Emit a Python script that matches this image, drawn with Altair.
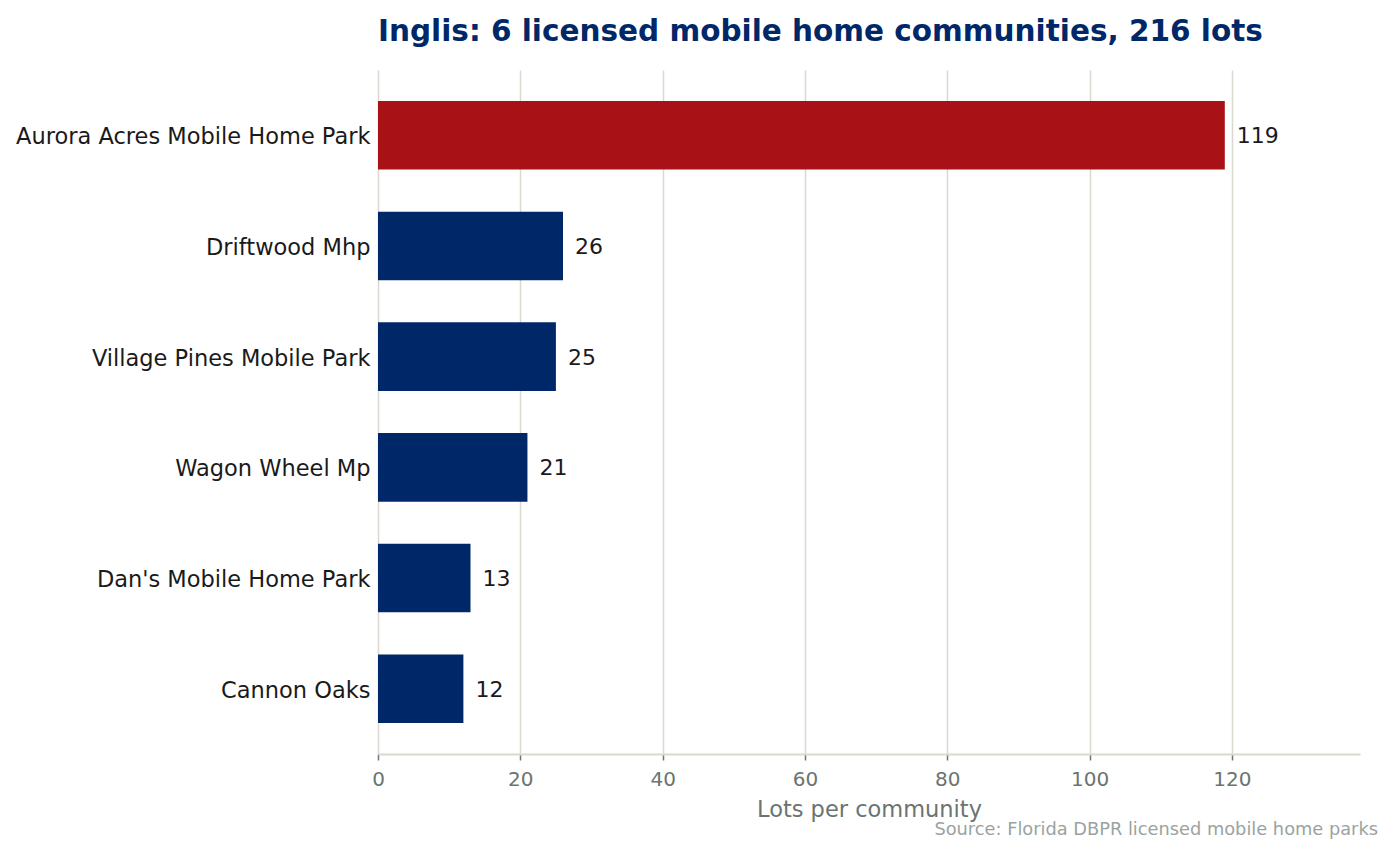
import altair as alt
import pandas as pd

communities = [
    "Aurora Acres Mobile Home Park",
    "Driftwood Mhp",
    "Village Pines Mobile Park",
    "Wagon Wheel Mp",
    "Dan's Mobile Home Park",
    "Cannon Oaks",
]
lots = [119, 26, 25, 21, 13, 12]
highlight = [True, False, False, False, False, False]
x_ticks = [0, 20, 40, 60, 80, 100, 120]

df = pd.DataFrame({"community": communities, "lots": lots, "top": highlight})

FONT = "DejaVu Sans"
NAVY = "#002868"
RED = "#a81115"

base = alt.Chart(df).encode(
    y=alt.Y(
        "community:N",
        sort=communities,
        title=None,
        scale=alt.Scale(paddingInner=0.38, paddingOuter=0.28),
        axis=alt.Axis(
            domain=False, ticks=False, labelFontSize=22.5, labelColor="#1a1a1a",
            labelFont=FONT, labelPadding=8, labelLimit=400, labelOffset=2,
        ),
    ),
    x=alt.X(
        "lots:Q",
        title="Lots per community",
        scale=alt.Scale(domain=[0, 138], nice=False, zero=True),
        axis=alt.Axis(
            values=x_ticks, grid=True, gridColor="#dcd8d0", gridWidth=1.5,
            domainColor="#dcd8d0", domainWidth=2, tickColor="#6b7470",
            tickSize=6, tickWidth=1.5, labelFontSize=20, labelColor="#6b7470",
            labelFont=FONT, labelPadding=9, labelFlush=False, titleFont=FONT,
            titleFontSize=22.5, titleFontWeight="normal", titleColor="#6b7470",
            titlePadding=9,
        ),
    ),
)

bars = base.mark_bar().encode(
    color=alt.condition("datum.top", alt.value(RED), alt.value(NAVY)),
)

values = base.mark_text(
    align="left", baseline="middle", dx=12, dy=1, fontSize=22, font=FONT, color="#1a1a1a",
).encode(text="lots:Q")

source = alt.Chart(pd.DataFrame({"t": ["Source: Florida DBPR licensed mobile home parks"]})).mark_text(
    align="right", baseline="middle", fontSize=17.8, font=FONT, color="#9aa3a0",
).encode(x=alt.value(1000), y=alt.value(760), text="t:N")

chart = (
    alt.layer(bars, values, source)
    .properties(
        width=982,
        height=684,
        background="white",
        title=alt.Title(
            "Inglis: 6 licensed mobile home communities, 216 lots",
            anchor="start", frame="group", font=FONT, fontSize=29.5,
            fontWeight="bold", color=NAVY, offset=23,
        ),
        autosize=alt.AutoSizeParams(type="none"),
        padding={"left": 370, "top": 62, "right": 25, "bottom": 100},
    )
    .configure_view(stroke="transparent")
)

chart.save("out.html", embed_options={"renderer": "svg", "actions": False})
